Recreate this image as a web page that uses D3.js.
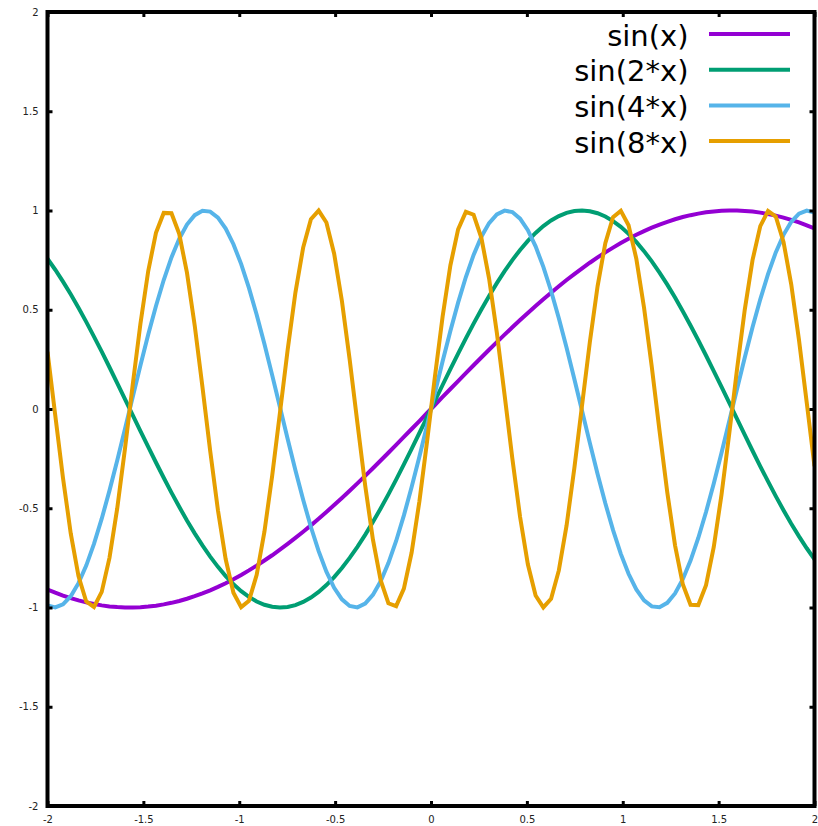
<!DOCTYPE html>
<html>
<head>
<meta charset="utf-8">
<script src="https://cdn.jsdelivr.net/npm/d3@7"></script>
<style>
  html, body { margin: 0; padding: 0; background: #fff; }
  svg { display: block; font-family: "DejaVu Sans", sans-serif; }
</style>
</head>
<body>
<svg id="chart" width="818" height="826"></svg>
<script>
// ---- data (100 samples over [-2, 2]) ----
const sampleX = [
-2.0000,-1.9596,-1.9192,-1.8788,-1.8384,-1.7980,-1.7576,-1.7172,-1.6768,-1.6364,
-1.5960,-1.5556,-1.5152,-1.4747,-1.4343,-1.3939,-1.3535,-1.3131,-1.2727,-1.2323,
-1.1919,-1.1515,-1.1111,-1.0707,-1.0303,-0.9899,-0.9495,-0.9091,-0.8687,-0.8283,
-0.7879,-0.7475,-0.7071,-0.6667,-0.6263,-0.5859,-0.5455,-0.5051,-0.4646,-0.4242,
-0.3838,-0.3434,-0.3030,-0.2626,-0.2222,-0.1818,-0.1414,-0.1010,-0.0606,-0.0202,
 0.0202, 0.0606, 0.1010, 0.1414, 0.1818, 0.2222, 0.2626, 0.3030, 0.3434, 0.3838,
 0.4242, 0.4646, 0.5051, 0.5455, 0.5859, 0.6263, 0.6667, 0.7071, 0.7475, 0.7879,
 0.8283, 0.8687, 0.9091, 0.9495, 0.9899, 1.0303, 1.0707, 1.1111, 1.1515, 1.1919,
 1.2323, 1.2727, 1.3131, 1.3535, 1.3939, 1.4343, 1.4747, 1.5152, 1.5556, 1.5960,
 1.6364, 1.6768, 1.7172, 1.7576, 1.7980, 1.8384, 1.8788, 1.9192, 1.9596, 2.0000
];

const sinX = [
-0.9093,-0.9254,-0.9399,-0.9529,-0.9644,-0.9743,-0.9826,-0.9893,-0.9944,-0.9979,
-0.9997,-0.9999,-0.9985,-0.9954,-0.9907,-0.9844,-0.9765,-0.9670,-0.9559,-0.9432,
-0.9291,-0.9134,-0.8962,-0.8775,-0.8575,-0.8360,-0.8131,-0.7889,-0.7634,-0.7368,
-0.7089,-0.6798,-0.6496,-0.6184,-0.5861,-0.5529,-0.5188,-0.4838,-0.4481,-0.4116,
-0.3745,-0.3367,-0.2984,-0.2596,-0.2204,-0.1808,-0.1409,-0.1008,-0.0606,-0.0202,
 0.0202, 0.0606, 0.1008, 0.1409, 0.1808, 0.2204, 0.2596, 0.2984, 0.3367, 0.3745,
 0.4116, 0.4481, 0.4838, 0.5188, 0.5529, 0.5861, 0.6184, 0.6496, 0.6798, 0.7089,
 0.7368, 0.7634, 0.7889, 0.8131, 0.8360, 0.8575, 0.8775, 0.8962, 0.9134, 0.9291,
 0.9432, 0.9559, 0.9670, 0.9765, 0.9844, 0.9907, 0.9954, 0.9985, 0.9999, 0.9997,
 0.9979, 0.9944, 0.9893, 0.9826, 0.9743, 0.9644, 0.9529, 0.9399, 0.9254, 0.9093
];

const sin2X = [
 0.7568, 0.7016, 0.6418, 0.5778, 0.5100, 0.4389, 0.3649, 0.2886, 0.2103, 0.1308,
 0.0503,-0.0305,-0.1111,-0.1909,-0.2695,-0.3464,-0.4210,-0.4928,-0.5615,-0.6264,
-0.6873,-0.7436,-0.7953,-0.8416,-0.8824,-0.9176,-0.9466,-0.9696,-0.9862,-0.9963,
-1.0000,-0.9971,-0.9878,-0.9719,-0.9498,-0.9214,-0.8870,-0.8468,-0.8012,-0.7503,
-0.6945,-0.6341,-0.5696,-0.5014,-0.4299,-0.3557,-0.2790,-0.2007,-0.1209,-0.0404,
 0.0404, 0.1209, 0.2007, 0.2790, 0.3557, 0.4299, 0.5014, 0.5696, 0.6341, 0.6945,
 0.7503, 0.8012, 0.8468, 0.8870, 0.9214, 0.9498, 0.9719, 0.9878, 0.9971, 1.0000,
 0.9963, 0.9862, 0.9696, 0.9466, 0.9176, 0.8824, 0.8416, 0.7953, 0.7436, 0.6873,
 0.6264, 0.5615, 0.4928, 0.4210, 0.3464, 0.2695, 0.1909, 0.1111, 0.0305,-0.0503,
-0.1308,-0.2103,-0.2886,-0.3649,-0.4389,-0.5100,-0.5778,-0.6418,-0.7016,-0.7568
];

const sin4X = [
-0.9894,-0.9999,-0.9843,-0.9431,-0.8774,-0.7887,-0.6795,-0.5526,-0.4113,-0.2593,
-0.1005, 0.0609, 0.2207, 0.3748, 0.5191, 0.6498, 0.7637, 0.8577, 0.9292, 0.9766,
 0.9985, 0.9944, 0.9643, 0.9092, 0.8302, 0.7298, 0.6103, 0.4749, 0.3271, 0.1707,
 0.0099,-0.1511,-0.3082,-0.4573,-0.5944,-0.7160,-0.8191,-0.9007,-0.9589,-0.9920,
-0.9994,-0.9806,-0.9364,-0.8677,-0.7763,-0.6648,-0.5360,-0.3931,-0.2401,-0.0807,
 0.0807, 0.2401, 0.3931, 0.5360, 0.6648, 0.7763, 0.8677, 0.9364, 0.9806, 0.9994,
 0.9920, 0.9589, 0.9007, 0.8191, 0.7160, 0.5944, 0.4573, 0.3082, 0.1511,-0.0099,
-0.1707,-0.3271,-0.4749,-0.6103,-0.7298,-0.8302,-0.9092,-0.9643,-0.9944,-0.9985,
-0.9766,-0.9292,-0.8577,-0.7637,-0.6498,-0.5191,-0.3748,-0.2207,-0.0609, 0.1005,
 0.2593, 0.4113, 0.5526, 0.6795, 0.7887, 0.8774, 0.9431, 0.9843, 0.9999, 0.9894
];

const sin8X = [
 0.2879,-0.0312,-0.3470,-0.6270,-0.8420,-0.9697,-0.9971,-0.9211,-0.7499,-0.5008,
-0.1999, 0.1216, 0.4306, 0.6950, 0.8874, 0.9879, 0.9861, 0.8821, 0.6868, 0.4203,
 0.1103,-0.2111,-0.5105,-0.7573,-0.9255,-0.9979,-0.9669,-0.8358,-0.6181,-0.3364,
-0.0198, 0.2988, 0.5864, 0.8133, 0.9560, 0.9997, 0.9398, 0.7826, 0.5443, 0.2497,
-0.0708,-0.3840,-0.6574,-0.8627,-0.9786,-0.9932,-0.9050,-0.7230,-0.4661,-0.1609,
 0.1609, 0.4661, 0.7230, 0.9050, 0.9932, 0.9786, 0.8627, 0.6574, 0.3840, 0.0708,
-0.2497,-0.5443,-0.7826,-0.9398,-0.9997,-0.9560,-0.8133,-0.5864,-0.2988, 0.0198,
 0.3364, 0.6181, 0.8358, 0.9669, 0.9979, 0.9255, 0.7573, 0.5105, 0.2111,-0.1103,
-0.4203,-0.6868,-0.8821,-0.9861,-0.9879,-0.8874,-0.6950,-0.4306,-0.1216, 0.1999,
 0.5008, 0.7499, 0.9211, 0.9971, 0.9697, 0.8420, 0.6270, 0.3470, 0.0312,-0.2879
];

const seriesNames = ["sin(x)", "sin(2*x)", "sin(4*x)", "sin(8*x)"];
const seriesColors = ["#9400d3", "#009e73", "#56b4e9", "#e69f00"];
const xTicks = [-2, -1.5, -1, -0.5, 0, 0.5, 1, 1.5, 2];
const yTicks = [-2, -1.5, -1, -0.5, 0, 0.5, 1, 1.5, 2];

// ---- layout ----
const L = 47.5, R = 814.5, T = 12, B = 806;
const svg = d3.select("#chart");
const x = d3.scaleLinear().domain([-2, 2]).range([L, R]);
const y = d3.scaleLinear().domain([-2, 2]).range([B, T]);

const allSeries = [sinX, sin2X, sin4X, sin8X];

svg.append("defs").append("clipPath").attr("id", "clip")
  .append("rect").attr("x", L).attr("y", T).attr("width", R - L).attr("height", B - T);

const line = d3.line().x(d => x(d[0])).y(d => y(d[1]));

const gLines = svg.append("g").attr("clip-path", "url(#clip)");
allSeries.forEach((vals, k) => {
  const pts = sampleX.map((xv, i) => [xv, vals[i]]);
  gLines.append("path")
    .attr("d", line(pts))
    .attr("fill", "none")
    .attr("stroke", seriesColors[k])
    .attr("stroke-width", 4)
    .attr("stroke-linejoin", "miter")
    .attr("stroke-miterlimit", 3);
});

// ---- axes (gnuplot style: inward ticks, mirrored) ----
const tickLen = 5;
const fmt = d => String(d);

const axB = d3.axisBottom(x).tickValues(xTicks).tickSizeInner(-tickLen).tickSizeOuter(0).tickPadding(10).tickFormat(fmt);
const axT = d3.axisTop(x).tickValues(xTicks).tickSizeInner(-tickLen).tickSizeOuter(0).tickFormat("");
const axL = d3.axisLeft(y).tickValues(yTicks).tickSizeInner(-tickLen).tickSizeOuter(0).tickPadding(9).tickFormat(fmt);
const axR = d3.axisRight(y).tickValues(yTicks).tickSizeInner(-tickLen).tickSizeOuter(0).tickFormat("");

function styleAxis(g) {
  g.select(".domain").remove();
  g.selectAll(".tick line").attr("stroke", "#000").attr("stroke-width", 3);
  g.selectAll(".tick text").attr("fill", "#222").attr("font-size", 10)
    .attr("font-family", "'DejaVu Sans', sans-serif");
}
svg.append("g").attr("transform", `translate(0,${B})`).call(axB).call(styleAxis);
svg.append("g").attr("transform", `translate(0,${T})`).call(axT).call(styleAxis);
svg.append("g").attr("transform", `translate(${L},0)`).call(axL).call(styleAxis);
svg.append("g").attr("transform", `translate(${R},0)`).call(axR).call(styleAxis);

// border
svg.append("rect")
  .attr("x", L).attr("y", T).attr("width", R - L).attr("height", B - T)
  .attr("fill", "none").attr("stroke", "#000").attr("stroke-width", 4);

// ---- legend ----
const legend = svg.append("g");
seriesNames.forEach((name, k) => {
  const ry = 34 + 35.7 * k;
  legend.append("text")
    .attr("x", 688.5).attr("y", ry + 11.5)
    .attr("text-anchor", "end")
    .attr("font-size", 29)
    .attr("fill", "#000")
    .text(name);
  legend.append("line")
    .attr("x1", 709).attr("x2", 790)
    .attr("y1", ry).attr("y2", ry)
    .attr("stroke", seriesColors[k]).attr("stroke-width", 4);
});
</script>
</body>
</html>
